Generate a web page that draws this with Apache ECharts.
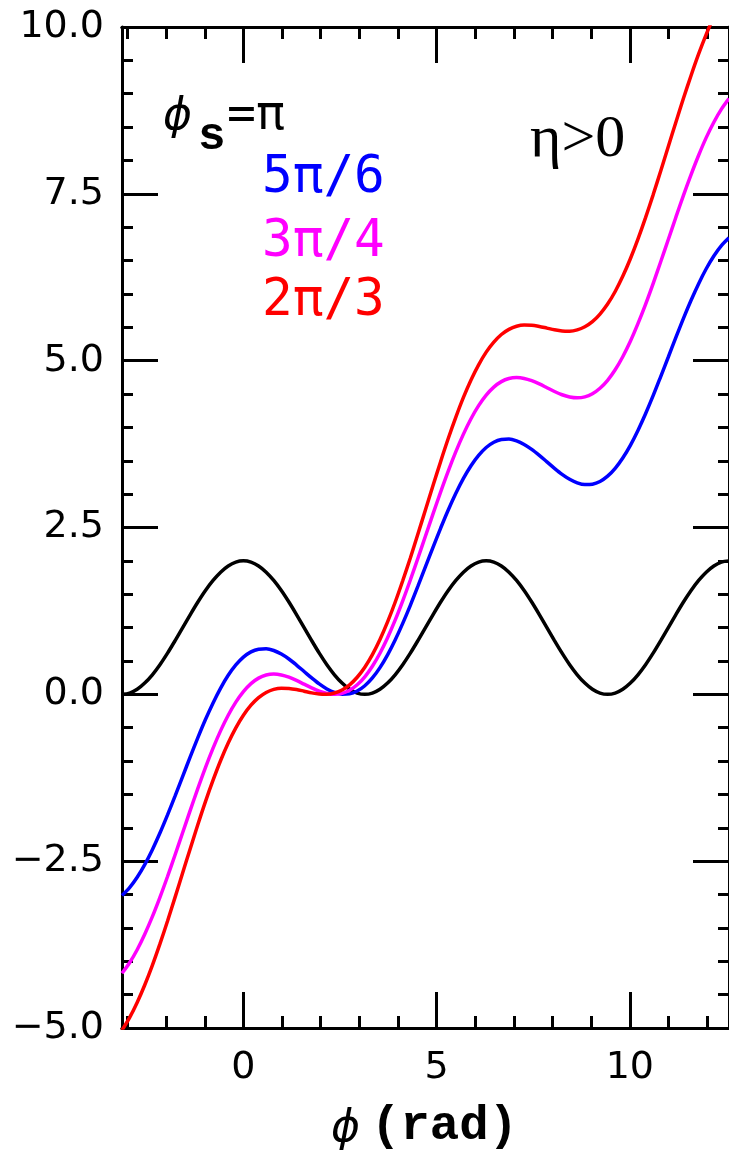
<!DOCTYPE html>
<html><head><meta charset="utf-8">
<script src="https://cdn.jsdelivr.net/npm/echarts@6/dist/echarts.min.js"></script>
<style>html,body{margin:0;padding:0;background:#fff}#c{width:729px;height:1157px}</style>
</head><body><div id="c"></div>
<script>
// phase phi (rad), sampled every pi/16 from -pi to 4pi
const phi = [-3.142,-2.945,-2.749,-2.553,-2.356,-2.160,-1.963,-1.767,-1.571,-1.374,-1.178,-0.982,-0.785,-0.589,-0.393,-0.196,0,0.196,0.393,0.589,0.785,0.982,1.178,1.374,1.571,1.767,1.963,2.160,2.356,2.553,2.749,2.945,3.142,3.338,3.534,3.731,3.927,4.123,4.320,4.516,4.712,4.909,5.105,5.301,5.498,5.694,5.890,6.087,6.283,6.480,6.676,6.872,7.069,7.265,7.461,7.658,7.854,8.050,8.247,8.443,8.639,8.836,9.032,9.228,9.425,9.621,9.817,10.014,10.210,10.407,10.603,10.799,10.996,11.192,11.388,11.585,11.781,11.977,12.174,12.370,12.566];
// phi_s = pi (black)
const uPi = [0,0.019,0.076,0.169,0.293,0.444,0.617,0.805,1,1.195,1.383,1.556,1.707,1.831,1.924,1.981,2,
  1.981,1.924,1.831,1.707,1.556,1.383,1.195,1,0.805,0.617,0.444,0.293,0.169,0.076,0.019,0,
  0.019,0.076,0.169,0.293,0.444,0.617,0.805,1,1.195,1.383,1.556,1.707,1.831,1.924,1.981,2,
  1.981,1.924,1.831,1.707,1.556,1.383,1.195,1,0.805,0.617,0.444,0.293,0.169,0.076,0.019,0,
  0.019,0.076,0.169,0.293,0.444,0.617,0.805,1,1.195,1.383,1.556,1.707,1.831,1.924,1.981,2];
// phi_s = 5pi/6 (blue)
const u5pi6 = [-3.014,-2.896,-2.741,-2.551,-2.328,-2.079,-1.807,-1.522,-1.228,-0.935,-0.649,-0.378,-0.129,0.094,0.285,0.440,0.557,0.636,0.677,0.683,0.657,0.603,0.529,0.439,0.342,0.246,0.156,0.081,0.028,0.002,0.007,0.049,0.128,0.245,0.400,0.591,0.814,1.063,1.334,1.620,1.913,2.207,2.492,2.763,3.013,3.236,3.426,3.581,3.699,3.778,3.819,3.825,3.798,3.745,3.671,3.581,3.484,3.387,3.297,3.223,3.170,3.143,3.149,3.190,3.269,3.387,3.542,3.732,3.955,4.205,4.475,4.762,5.055,5.348,5.634,5.905,6.154,6.377,6.568,6.723,6.840];
// phi_s = 3pi/4 (magenta)
const u3pi4 = [-4.180,-4.022,-3.827,-3.595,-3.332,-3.042,-2.730,-2.404,-2.070,-1.736,-1.409,-1.098,-0.807,-0.544,-0.313,-0.117,0.041,0.161,0.243,0.289,0.304,0.291,0.257,0.208,0.152,0.096,0.047,0.013,0.000,0.015,0.061,0.143,0.263,0.421,0.616,0.848,1.111,1.401,1.713,2.039,2.373,2.707,3.034,3.345,3.636,3.899,4.130,4.326,4.484,4.604,4.686,4.732,4.746,4.734,4.700,4.651,4.595,4.538,4.489,4.456,4.443,4.457,4.504,4.586,4.705,4.863,5.059,5.290,5.554,5.844,6.155,6.482,6.816,7.150,7.477,7.788,8.078,8.342,8.573,8.769,8.927];
// phi_s = 2pi/3 (red)
const u2pi3 = [-5.034,-4.845,-4.618,-4.356,-4.061,-3.740,-3.397,-3.039,-2.674,-2.309,-1.951,-1.608,-1.287,-0.992,-0.730,-0.503,-0.314,-0.163,-0.050,0.028,0.074,0.092,0.089,0.072,0.047,0.022,0.004,0.001,0.020,0.065,0.143,0.256,0.407,0.596,0.823,1.086,1.380,1.702,2.044,2.402,2.767,3.132,3.490,3.833,4.154,4.449,4.711,4.938,5.128,5.278,5.392,5.469,5.515,5.533,5.531,5.513,5.488,5.463,5.445,5.442,5.461,5.507,5.584,5.697,5.848,6.037,6.264,6.527,6.821,7.143,7.485,7.843,8.209,8.574,8.932,9.274,9.596,9.890,10.153,10.380,10.569];

const xMajor = [0, 5, 10];
const xMinor = [-3, -2, -1, 1, 2, 3, 4, 6, 7, 8, 9, 11, 12];
const xMin = -3.1416, xMax = 12.5664;
const yMin = -5, yMax = 10, yStep = 2.5;
const legendLabels = ['5π/6', '3π/4', '2π/3'];
const colors = ['#0000ff', '#ff00ff', '#ff0000'];

const chart = echarts.init(document.getElementById('c'), null, {renderer: 'canvas'});
const pair = a => phi.map((x, i) => [x, a[i]]);
const lineW = 3.5;
const tickStyle = {color: '#000', width: 3};
const labelFont = {color: '#000', fontSize: 38, fontFamily: 'DejaVu Sans'};

function xAx(pos, vals, len, labels) {
  return {
    type: 'value', position: pos, min: xMin, max: xMax,
    axisLine: {show: true, onZero: false, lineStyle: {color: '#000', width: 3}},
    axisTick: {show: true, inside: true, length: len, lineStyle: tickStyle, customValues: vals},
    axisLabel: labels ? Object.assign({show: true, customValues: vals, margin: 21}, labelFont) : {show: false},
    splitLine: {show: false}
  };
}
function yAx(pos, labels) {
  return {
    type: 'value', position: pos, min: yMin, max: yMax, interval: yStep,
    axisLine: {show: true, onZero: false, lineStyle: {color: '#000', width: 3}},
    axisTick: {show: true, inside: true, length: 36, lineStyle: tickStyle},
    minorTick: {show: true, splitNumber: 5, length: 11, lineStyle: tickStyle},
    axisLabel: labels ? Object.assign({show: true, margin: 18, showMinLabel: true, showMaxLabel: true,
      formatter: v => v.toFixed(1).replace('-', '\u2212')}, labelFont) : {show: false},
    splitLine: {show: false}, minorSplitLine: {show: false}
  };
}

const option = {
  backgroundColor: '#fff',
  animation: false,
  grid: {left: 122, top: 27, width: 611, height: 1001, containLabel: false},
  xAxis: [
    xAx('bottom', xMajor, 36, true),
    xAx('bottom', xMinor, 12, false),
    xAx('top', xMajor, 36, false),
    xAx('top', xMinor, 12, false)
  ],
  yAxis: [yAx('left', true), yAx('right', false)],
  series: [
    {type: 'line', data: pair(uPi), color: '#000'},
    {type: 'line', data: pair(u5pi6), color: colors[0]},
    {type: 'line', data: pair(u3pi4), color: colors[1]},
    {type: 'line', data: pair(u2pi3), color: colors[2]}
  ].map(s => Object.assign(s, {xAxisIndex: 0, yAxisIndex: 0, smooth: 0.3, showSymbol: false, clip: true,
      lineStyle: {width: lineW, color: s.color}})),
  graphic: [
    {type: 'text', left: 163, top: 96, style: {text: 'ϕ', font: 'italic 44px "DejaVu Sans"', fill: '#000'}},
    {type: 'text', left: 198, top: 114, style: {text: 's', font: 'bold 46px "Liberation Mono"', fill: '#000'}},
    {type: 'text', left: 227, top: 93, style: {text: '=π', font: '48px "DejaVu Sans Mono"', fill: '#000'}},
    {type: 'text', left: 262, top: 153, style: {text: legendLabels[0], font: '51px "DejaVu Sans Mono"', fill: colors[0]}},
    {type: 'text', left: 262, top: 217, style: {text: legendLabels[1], font: '51px "DejaVu Sans Mono"', fill: colors[1]}},
    {type: 'text', left: 262, top: 276, style: {text: legendLabels[2], font: '51px "DejaVu Sans Mono"', fill: colors[2]}},
    {type: 'text', left: 530, top: 110, style: {text: 'η>0', font: '60px "Liberation Serif"', fill: '#000'}},
    {type: 'text', left: 331, top: 1108, style: {text: 'ϕ', font: 'italic 44px "DejaVu Sans"', fill: '#000'}},
    {type: 'text', left: 371, top: 1102, style: {text: '(rad)', font: 'bold 49px "Liberation Mono"', fill: '#000'}}
  ]
};
chart.setOption(option);
</script>
</body></html>
